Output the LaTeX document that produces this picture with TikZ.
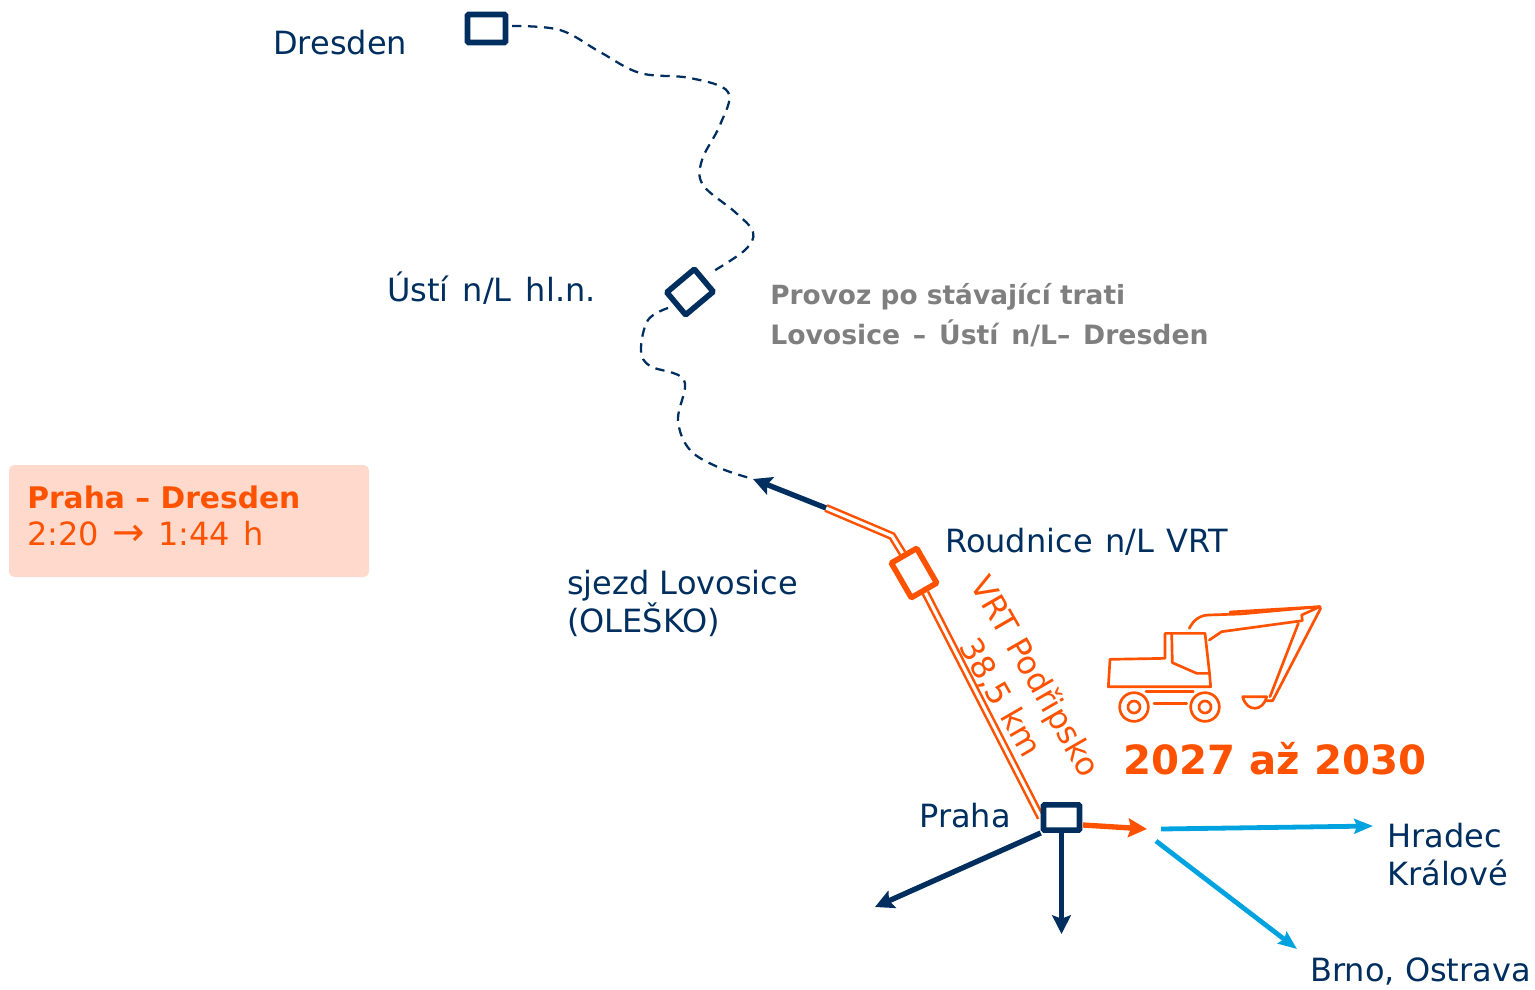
\documentclass[tikz,border=0pt]{standalone}
\usepackage{fontspec}
\setmainfont{DejaVu Sans}
\usetikzlibrary{arrows.meta,backgrounds}
\definecolor{navyc}{HTML}{002F5F}
\definecolor{orangec}{HTML}{FF5200}
\definecolor{bluec}{HTML}{00A3E0}
\definecolor{greyc}{HTML}{7F7F7F}
\definecolor{peachc}{HTML}{FFD9CC}
\newcommand{\wsk}[1]{\setlength{\spaceskip}{#1}}
\tikzset{
  x=0.75pt,y=-0.75pt,
  stn/.style={draw=navyc,line width=4.2pt,rounded corners=0.8pt,fill=white,minimum width=28.5pt,minimum height=21pt,inner sep=0pt},
  stno/.style={stn,draw=orangec},
  lbl/.style={text=navyc,font=\fontsize{24}{28.5}\selectfont,inner sep=0pt,anchor=base west,align=left},
  rlbl/.style={text=orangec,font=\fontsize{24}{28}\selectfont,inner sep=0pt,rotate=-60},
  greyt/.style={text=greyc,font=\fontsize{20}{30}\bfseries\selectfont,inner sep=0pt,anchor=base west},
  dashline/.style={draw=navyc,line width=1.7pt,dash pattern=on 7pt off 5pt},
  dbl/.style={draw=orangec,line width=1.9pt,double=white,double distance=2.4pt},
  navyarrow/.style={draw=navyc,line width=4pt,-{Stealth[length=14pt,width=14pt,inset=2.5pt]}},
  orarrow/.style={draw=orangec,line width=4pt,-{Stealth[length=14pt,width=14pt,inset=2pt]}},
  bluearrow/.style={draw=bluec,line width=3.6pt,-{Stealth[length=14pt,width=11pt,inset=2pt]}},
  digger/.style={draw=orangec,line width=2pt,line cap=round,line join=round},
}
\begin{document}
\begin{tikzpicture}
\useasboundingbox (0,0) rectangle (1535,989);
% info box
\node[fill=peachc,rounded corners=4pt,minimum width=270pt,minimum height=84pt,inner sep=0pt] (info) at (189,521) {};
\node[text=orangec,font=\fontsize{22.3}{27}\bfseries\selectfont,inner sep=0pt,anchor=base west] (infoa) at (27,508) {Praha – Dresden};
\node[text=orangec,font=\fontsize{24}{28}\selectfont,inner sep=0pt,anchor=base west] (infob) at (27,545) {\wsk{10pt}2:20 {\fontsize{29}{28}\selectfont →} 1:44 h};
% coordinates
\coordinate (bend1) at (892,536);
\coordinate (bend2) at (826,508);
\coordinate (lovend) at (753,479);
\coordinate (swend) at (875,907);
\coordinate (send) at (1061.5,934);
\coordinate (pe) at (1083,825);
\coordinate (eend) at (1147,829);
\coordinate (hkstart) at (1161,829);
\coordinate (hkend) at (1373,826);
\coordinate (brstart) at (1156,841);
\coordinate (brend) at (1297,949);
\coordinate (dstart) at (512,26);
\coordinate (un) at (712,272);
\coordinate (us) at (668,308);
% stations
\node[stn] (dresden) at (486.5,28.5) {};
\node[stn,minimum width=27pt,minimum height=22pt,rotate=40] (usti) at (690,292) {};
\node[stno,minimum width=30pt,minimum height=22pt,rotate=-60] (roud) at (914,573) {};
\node[stn,minimum width=27pt,minimum height=19pt] (praha) at (1061.5,817.5) {};
% dashed line
\draw[dashline] plot[smooth,tension=0.6] coordinates {(dstart) (560,30) (600,52) (640,73) (690,78) (728,92) (720,125) (702,160) (703,185) (735,212) (753,232) (745,250) (un)};
\draw[dashline] plot[smooth,tension=0.6] coordinates {(us) (648,320) (641,350) (650,366) (684,380) (678,420) (690,450) (720,468) (lovend)};
% orange double lines
\begin{pgfonlayer}{background}
\draw[dbl] (praha.west) -- (roud.east);
\draw[dbl] (roud.west) -- (bend1) -- (bend2);
\end{pgfonlayer}
% arrows
\draw[navyarrow] (bend2) -- (lovend);
\draw[navyarrow] (praha.south west) -- (swend);
\draw[navyarrow] (praha.south) -- (send);
\draw[orarrow] (pe) -- (eend);
\draw[bluearrow] (hkstart) -- (hkend);
\draw[bluearrow] (brstart) -- (brend);
% labels
\node[lbl] (ldresden) at (273,54) {Dresden};
\node[lbl] (lusti) at (387,301) {\wsk{10.6pt}Ústí n/L hl.n.};
\node[lbl] (lroud) at (945,552) {\wsk{9.5pt}Roudnice n/L VRT};
\node[lbl] (lsjezd) at (567,632) {sjezd Lovosice\\(OLEŠKO)};
\node[lbl] (lpraha) at (919,827) {Praha};
\node[lbl] (lhk) at (1387,885) {Hradec\\Králové};
\node[lbl] (lbrno) at (1310,981) {Brno, Ostrava};
\node[greyt,font=\fontsize{19.8}{30}\bfseries\selectfont] (g1) at (770,304) {Provoz po stávající trati};
\node[greyt] (g2) at (770,344) {\wsk{9.6pt}Lovosice – Ústí n/L– Dresden};
\node[rlbl] (vrt) at (1034,677) {VRT Podřipsko};
\node[rlbl] (km) at (1000,698) {38,5 km};
\node[text=orangec,font=\fontsize{30.2}{36}\bfseries\selectfont,inner sep=0pt,anchor=base west] (year) at (1123,774) {2027 až 2030};
% excavator
\begin{scope}[shift={(1090,590)},x=0.25pt,y=-0.25pt]
\draw[digger] (225,205) -- (60,208) -- (55,290) -- (362,290) -- (358,245) -- (345,130) -- (225,130) -- cycle;
\draw[digger] (245,130) -- (247,218) -- (320,250) -- (358,250);
\draw[digger] (132,351) circle[radius=43];
\draw[digger] (132,351) circle[radius=18];
\draw[digger] (345,351) circle[radius=43];
\draw[digger] (345,351) circle[radius=18];
\draw[digger] (168,305) -- (310,305);
\draw[digger] (192,340) -- (290,340);
\draw[digger] (298,115) .. controls (310,90) and (330,76) .. (355,75) -- (450,72) -- (690,50);
\draw[digger] (420,66) -- (690,50) -- (635,75) -- (637,92) -- (395,125) -- (358,150);
\draw[digger] (625,100) -- (540,320);
\draw[digger] (692,55) -- (548,332) -- (530,332);
\draw[digger] (458,320) -- (530,320) .. controls (520,365) and (470,368) .. (458,320);
\end{scope}
\end{tikzpicture}
\end{document}
